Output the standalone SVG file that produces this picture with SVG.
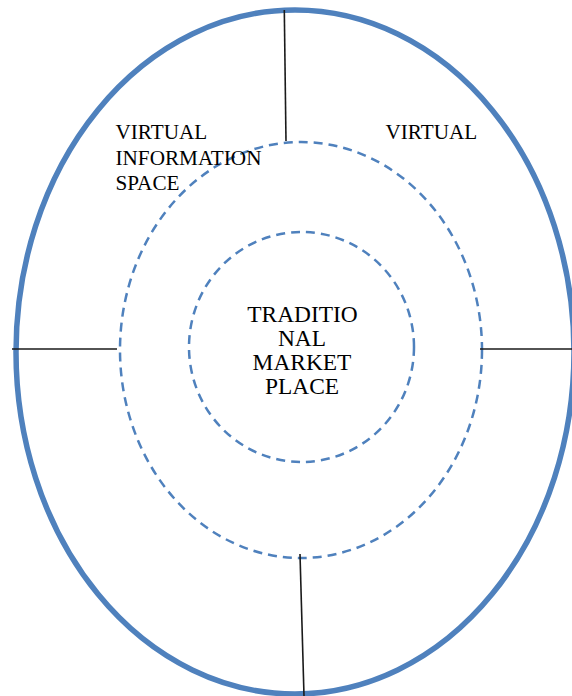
<svg xmlns="http://www.w3.org/2000/svg" width="572" height="696" viewBox="0 0 572 696">
<style>
.outer{fill:none;stroke:#4f81bd;stroke-width:5.5}
.dash{fill:none;stroke:#4f81bd;stroke-width:2.5;stroke-dasharray:9 6}
.conn{stroke:#1a1a1a;stroke-width:1.6;fill:none}
.lbl{font-family:"Liberation Serif","Times New Roman",serif;fill:#000}
</style>
<rect width="572" height="696" fill="#fff"/>
<g id="outer-ring"><ellipse class="outer" cx="295" cy="352" rx="279" ry="342"/></g>
<g id="middle-ring"><ellipse class="dash" cx="301" cy="350" rx="181" ry="208"/></g>
<g id="inner-ring"><ellipse class="dash" cx="301.5" cy="347" rx="112.5" ry="115"/></g>
<g id="connectors">
<line class="conn" x1="284.3" y1="10" x2="286" y2="141"/>
<line class="conn" x1="12" y1="349" x2="117" y2="349"/>
<line class="conn" x1="480" y1="349" x2="572" y2="349"/>
<line class="conn" x1="300" y1="554" x2="304" y2="696"/>
</g>
<g id="virtual-information-space" class="lbl" font-size="21.2">
<text x="115.5" y="139">VIRTUAL</text>
<text x="115.5" y="165">INFORMATION</text>
<text x="115.5" y="190">SPACE</text>
</g>
<g id="virtual" class="lbl" font-size="21.2">
<text x="385.5" y="139">VIRTUAL</text>
</g>
<g id="traditional-market-place" class="lbl" font-size="23.4" text-anchor="middle">
<text x="302.5" y="322">TRADITIO</text>
<text x="302" y="346">NAL</text>
<text x="302" y="370">MARKET</text>
<text x="302" y="394">PLACE</text>
</g>
</svg>
